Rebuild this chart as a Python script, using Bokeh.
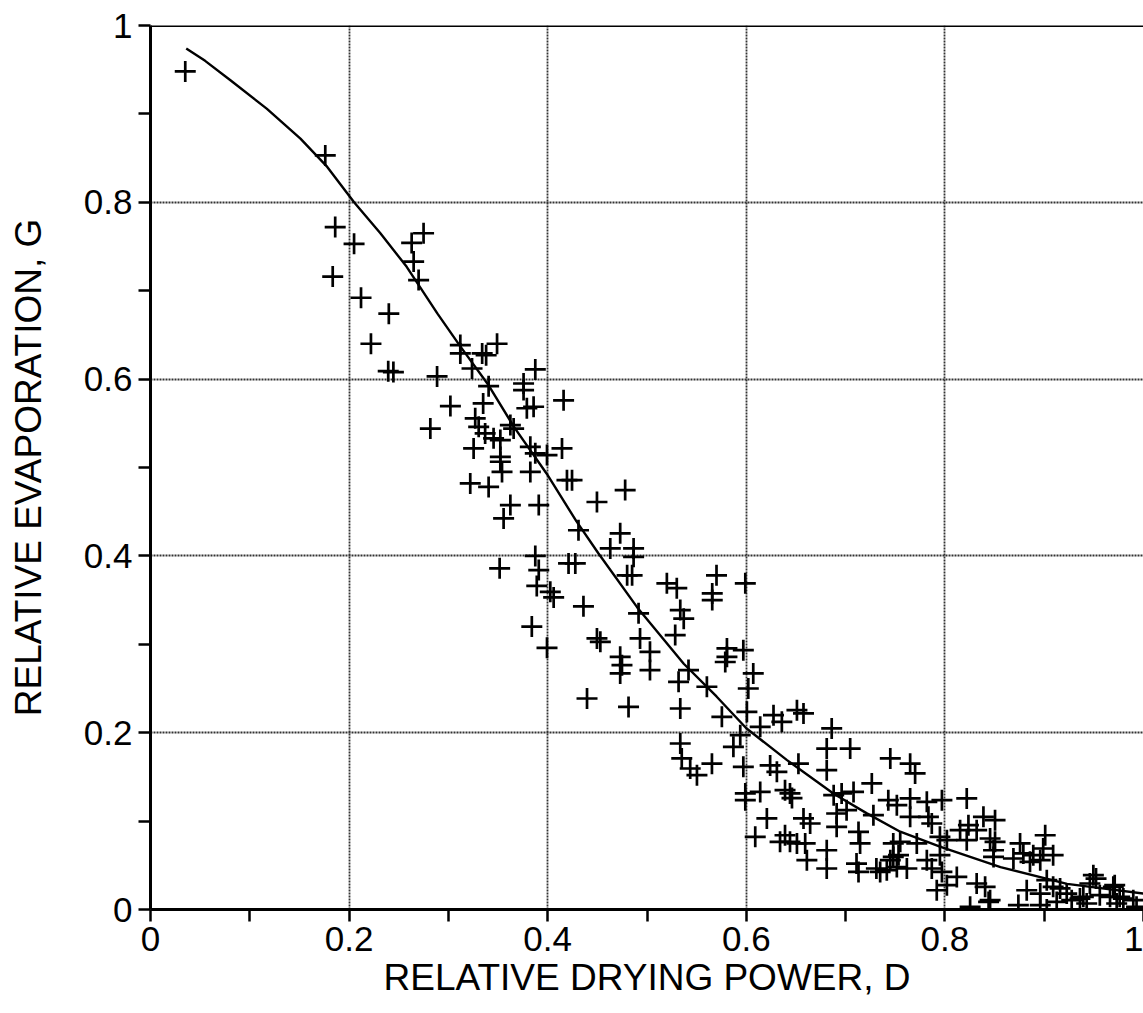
from bokeh.plotting import figure
from bokeh.models import FixedTicker, CustomJSTickFormatter, Span, ColumnDataSource
from bokeh.embed import file_html
from bokeh.resources import INLINE

# ---- data: observed points (relative drying power D, relative evaporation G)
obs_D = [0.035, 0.176, 0.186, 0.205, 0.1835, 0.212, 0.240, 0.263, 0.275, 0.265, 0.270,
         0.222, 0.2394, 0.2446, 0.2886,
         0.312, 0.312, 0.334, 0.338, 0.349, 0.3238, 0.3405, 0.3757, 0.3875, 0.3757,
         0.379, 0.3858, 0.416, 0.302, 0.335, 0.2818, 0.327, 0.3305, 0.3624, 0.3657,
         0.337, 0.3455, 0.3523, 0.3254, 0.3825, 0.3875, 0.3993, 0.4144, 0.3523, 0.3523,
         0.354, 0.3825, 0.322, 0.3405, 0.4194, 0.4245, 0.3624, 0.391, 0.3556, 0.4496,
         0.431, 0.3875, 0.3516, 0.391, 0.421, 0.4278, 0.389, 0.4026, 0.406, 0.436,
         0.384, 0.3993, 0.478, 0.473, 0.463, 0.4865, 0.4865, 0.485, 0.480, 0.520,
         0.530, 0.570, 0.5657, 0.5657, 0.599, 0.4915, 0.5335, 0.537, 0.4496, 0.453,
         0.493, 0.503, 0.5284, 0.473, 0.4748, 0.473, 0.503, 0.5805, 0.5805, 0.5788,
         0.597, 0.5418, 0.5318, 0.5603, 0.607, 0.602, 0.4396, 0.4814, 0.5335, 0.5754,
         0.6006, 0.6274, 0.6358, 0.614, 0.651, 0.6576, 0.686, 0.5939, 0.587, 0.5335,
         0.535, 0.5435, 0.5503, 0.5654, 0.597, 0.624, 0.6308, 0.6525, 0.681, 0.7046,
         0.681, 0.599, 0.599, 0.614, 0.639, 0.644, 0.646, 0.688, 0.696, 0.708,
         0.7264, 0.743, 0.7516, 0.6207, 0.6576, 0.6643, 0.691, 0.701, 0.691, 0.728,
         0.609, 0.639, 0.644, 0.651, 0.6593, 0.661, 0.681, 0.681, 0.713, 0.711,
         0.713, 0.7146, 0.7415, 0.745, 0.748, 0.745, 0.765, 0.770, 0.765, 0.7818,
         0.797, 0.822, 0.765, 0.7834, 0.7868, 0.8388, 0.8237, 0.755, 0.7717, 0.795,
         0.802, 0.8153, 0.832, 0.8455, 0.822, 0.748, 0.7348, 0.7617, 0.7818, 0.7868,
         0.795, 0.797, 0.812, 0.7918, 0.802, 0.832, 0.8405, 0.8455, 0.8254, 0.849,
         0.849, 0.8757, 0.901, 0.899, 0.909, 0.889, 0.8857, 0.869, 0.896, 0.844,
         0.874, 0.9026, 0.8824, 0.896, 0.9026, 0.909, 0.9495, 0.946, 0.9696, 0.9227,
         0.9394, 0.956, 0.976, 0.9897, 0.993, 0.8505, 0.879, 0.9522, 0.971, 0.9663,
         0.9797, 0.9126, 0.9277, 0.9428, 0.973, 0.896, 0.916, 0.936, 0.8505, 0.7533,
         0.634, 0.731, 0.7516]
obs_G = [0.948, 0.853, 0.772, 0.753, 0.716, 0.692, 0.674, 0.754, 0.765, 0.733, 0.712,
         0.640, 0.609, 0.608, 0.603,
         0.6385, 0.629, 0.629, 0.627, 0.640, 0.612, 0.592, 0.595, 0.611, 0.5876,
         0.567, 0.5687, 0.576, 0.5695, 0.5725, 0.544, 0.5556, 0.546, 0.548, 0.544,
         0.5386, 0.533, 0.531, 0.5216, 0.5234, 0.516, 0.514, 0.5216, 0.512, 0.5065,
         0.495, 0.495, 0.482, 0.478, 0.4857, 0.4857, 0.4575, 0.4575, 0.4424, 0.461,
         0.429, 0.400, 0.386, 0.384, 0.3915, 0.3915, 0.366, 0.3594, 0.353, 0.343,
         0.320, 0.296, 0.4745, 0.4255, 0.4085, 0.4085, 0.399, 0.378, 0.378, 0.369,
         0.3635, 0.378, 0.3575, 0.350, 0.369, 0.335, 0.3387, 0.329, 0.3066, 0.3028,
         0.3066, 0.2915, 0.3104, 0.2858, 0.2764, 0.267, 0.2708, 0.2953, 0.2858, 0.280,
         0.2934, 0.2708, 0.2575, 0.252, 0.267, 0.250, 0.2387, 0.2292, 0.2274, 0.218,
         0.2236, 0.2198, 0.2123, 0.2066, 0.2255, 0.2218, 0.2048, 0.1972, 0.184, 0.1878,
         0.1709, 0.1595, 0.152, 0.165, 0.1614, 0.163, 0.1557, 0.165, 0.182, 0.182,
         0.1576, 0.1313, 0.1237, 0.133, 0.135, 0.1313, 0.126, 0.1293, 0.1313, 0.133,
         0.1426, 0.1237, 0.118, 0.103, 0.103, 0.0973, 0.1086, 0.1124, 0.0935, 0.1067,
         0.0822, 0.084, 0.0765, 0.0747, 0.0747, 0.0558, 0.067, 0.0464, 0.0878, 0.052,
         0.0425, 0.0747, 0.0445, 0.0558, 0.0747, 0.1709, 0.165, 0.1539, 0.1256, 0.1218,
         0.1237, 0.1256, 0.1048, 0.1048, 0.0973, 0.1048, 0.0954, 0.0765, 0.0747, 0.0822,
         0.0784, 0.0897, 0.0897, 0.0803, 0.0784, 0.0595, 0.0425, 0.0464, 0.0558, 0.0464,
         0.0614, 0.0425, 0.0369, 0.0218, 0.0275, 0.0294, 0.0256, 0.0105, 0.003, 0.067,
         0.0595, 0.0747, 0.084, 0.069, 0.0614, 0.0614, 0.0539, 0.0577, 0.0558, 0.0086,
         0.005, 0.0, 0.0218, 0.018, 0.0332, 0.0256, 0.0388, 0.0294, 0.0256, 0.018,
         0.0143, 0.0162, 0.0143, 0.0105, 0.003, 0.101, 0.0634, 0.035, 0.0275, 0.0143,
         0.0124, 0.0086, 0.0105, 0.0068, 0.0068, 0.005, 0.0238, 0.0124, 0.0765, 0.0614,
         0.0765, 0.0464, 0.048]

# ---- data: fitted curve
curve_D = [0.036, 0.055, 0.0805, 0.117, 0.151, 0.178, 0.205, 0.2315, 0.258, 0.289,
           0.312, 0.3405, 0.366, 0.399, 0.429, 0.451, 0.490, 0.537, 0.570, 0.600,
           0.641, 0.688, 0.721, 0.755, 0.795, 0.856, 0.923, 1.0]
curve_G = [0.974, 0.960, 0.938, 0.906, 0.872, 0.840, 0.800, 0.765, 0.727, 0.674,
           0.637, 0.593, 0.546, 0.493, 0.439, 0.403, 0.342, 0.278, 0.241, 0.205,
           0.169, 0.131, 0.109, 0.088, 0.071, 0.048, 0.029, 0.018]

major_ticks = [0, 0.2, 0.4, 0.6, 0.8, 1.0]
minor_ticks = [0.1, 0.3, 0.5, 0.7, 0.9]
x_title = "RELATIVE DRYING POWER, D"
y_title = "RELATIVE EVAPORATION, G"

FONT = "Liberation Sans"

p = figure(width=1143, height=1013, x_range=(0, 1), y_range=(0, 1),
           output_backend="svg", toolbar_location=None,
           frame_width=993, frame_height=884,
           min_border_left=150, min_border_right=0, min_border_top=25,
           min_border_bottom=104)
p.background_fill_color = "white"
p.border_fill_color = "white"
p.outline_line_color = None

fmt = CustomJSTickFormatter(code="""
    if (Math.abs(tick) < 1e-9) return '0';
    if (Math.abs(tick - 1) < 1e-9) return '1';
    return tick.toFixed(1);
""")

for ax in (p.xaxis[0], p.yaxis[0]):
    ax.ticker = FixedTicker(ticks=major_ticks, minor_ticks=minor_ticks)
    ax.formatter = fmt
    ax.axis_line_width = 3
    ax.axis_line_color = "black"
    ax.major_tick_line_width = 2.5
    ax.minor_tick_line_width = 2.5
    ax.major_tick_line_color = "black"
    ax.minor_tick_line_color = "black"
    ax.major_tick_in = 0
    ax.major_tick_out = 12
    ax.minor_tick_in = 0
    ax.minor_tick_out = 12
    ax.major_label_text_font = FONT
    ax.major_label_text_font_size = "35px"
    ax.major_label_text_color = "black"
    ax.axis_label_text_font = FONT
    ax.axis_label_text_font_size = "37px"
    ax.axis_label_text_font_style = "normal"
    ax.axis_label_text_color = "black"

p.xaxis.axis_label = x_title
p.yaxis.axis_label = y_title
p.xaxis.major_label_standoff = 5
p.yaxis.major_label_standoff = 6
p.xaxis.axis_label_standoff = 3
p.yaxis.axis_label_standoff = 32

for g in (p.xgrid[0], p.ygrid[0]):
    g.ticker = FixedTicker(ticks=[0.2, 0.4, 0.6, 0.8])
    g.grid_line_color = "#333333"
    g.grid_line_width = 1.8
    g.grid_line_dash = "2 1"

p.add_layout(Span(location=1, dimension="width", line_color="black", line_width=3))

src = ColumnDataSource(dict(D=obs_D, G=obs_G))
p.scatter("D", "G", source=src, marker="cross", size=21,
          line_color="black", line_width=2.7)
p.line(curve_D, curve_G, line_color="black", line_width=2.4)

open("out.html", "w").write(file_html(p, INLINE))
